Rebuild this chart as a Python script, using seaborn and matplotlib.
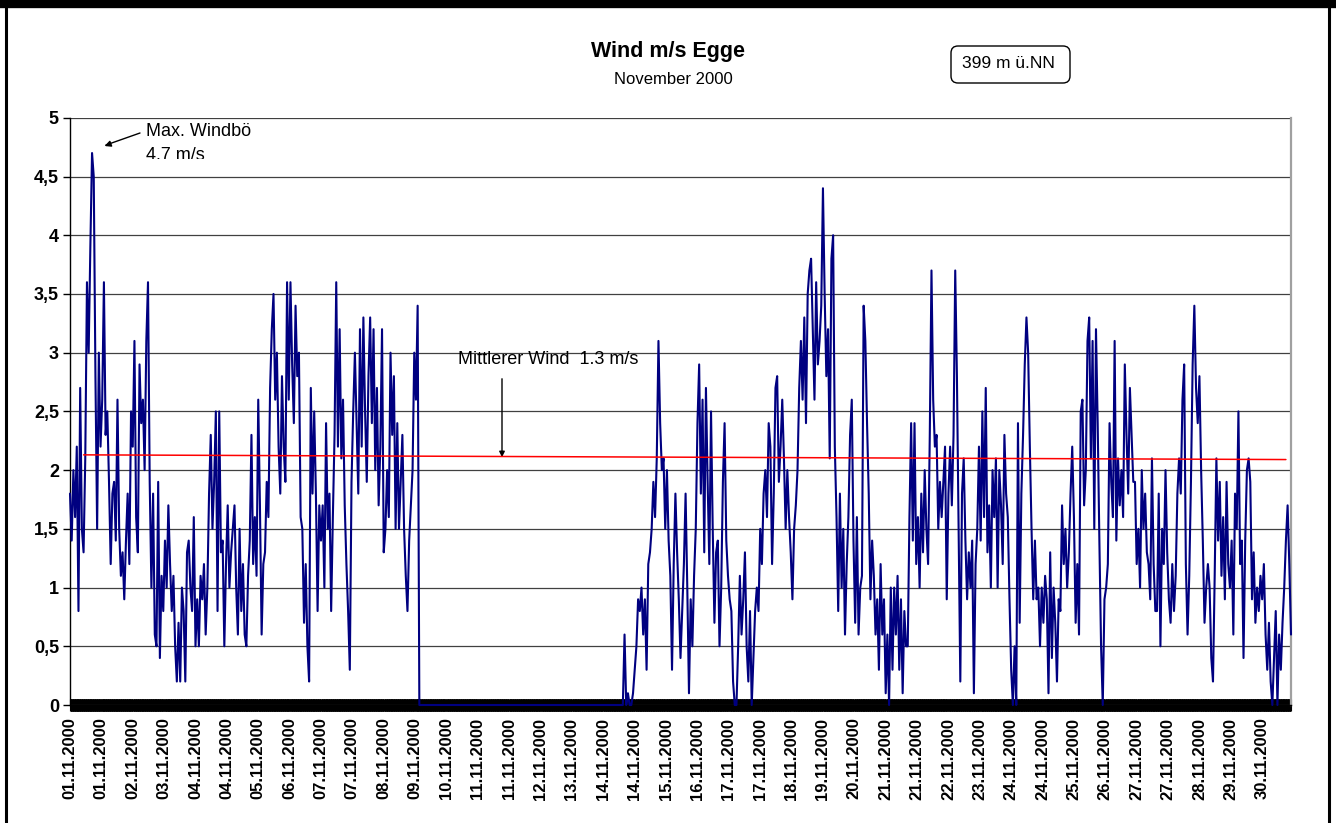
import numpy as np
import pandas as pd
import matplotlib
matplotlib.use("Agg")
import matplotlib.pyplot as plt
import seaborn as sns
from matplotlib.lines import Line2D
from matplotlib.patches import FancyBboxPatch
from matplotlib.transforms import Bbox, IdentityTransform

# ---- hourly wind values (m/s), one list per day ----
day01 = [1.8, 1.4, 2.0, 1.6, 2.2, 0.8, 2.7, 1.5, 1.3, 2.1, 3.6, 3.0, 3.9, 4.7, 4.5, 2.8, 1.5, 3.0, 2.2, 2.6, 3.6, 2.3, 2.5, 1.9]
day02 = [1.2, 1.8, 1.9, 1.4, 2.6, 1.5, 1.1, 1.3, 0.9, 1.4, 1.8, 1.2, 2.5, 2.2, 3.1, 1.6, 1.3, 2.9, 2.4, 2.6, 2.0, 3.1, 3.6, 1.9]
day03 = [1.0, 1.8, 0.6, 0.5, 1.9, 0.4, 1.1, 0.8, 1.4, 1.0, 1.7, 1.2, 0.8, 1.1, 0.5, 0.2, 0.7, 0.2, 1.0, 0.8, 0.2, 1.3, 1.4, 1.0]
day04 = [0.8, 1.6, 0.5, 0.9, 0.5, 1.1, 0.9, 1.2, 0.6, 1.0, 1.8, 2.3, 1.5, 1.9, 2.5, 0.8, 2.5, 1.3, 1.4, 0.5, 1.2, 1.7, 1.0, 1.3]
day05 = [1.5, 1.7, 1.0, 0.6, 1.5, 0.8, 1.2, 0.6, 0.5, 1.1, 1.4, 2.3, 1.2, 1.6, 1.1, 2.6, 1.7, 0.6, 1.2, 1.3, 1.9, 1.6, 2.7, 3.2]
day06 = [3.5, 2.6, 3.0, 2.2, 1.8, 2.8, 2.2, 1.9, 3.6, 2.6, 3.6, 2.9, 2.4, 3.4, 2.8, 3.0, 1.6, 1.5, 0.7, 1.2, 0.5, 0.2, 2.7, 1.8]
day07 = [2.5, 1.8, 0.8, 1.7, 1.4, 1.7, 1.0, 2.4, 1.5, 1.8, 0.8, 1.6, 2.3, 3.6, 2.2, 3.2, 2.1, 2.6, 1.7, 1.2, 0.8, 0.3, 1.9, 2.5]
day08 = [3.0, 2.4, 1.8, 3.2, 2.2, 3.3, 2.5, 1.9, 2.8, 3.3, 2.4, 3.2, 2.0, 2.7, 1.7, 2.2, 3.2, 1.3, 1.5, 2.0, 1.6, 3.0, 2.3, 2.8]
day09 = [1.5, 2.4, 1.5, 1.9, 2.3, 1.5, 1.1, 0.8, 1.4, 1.7, 2.0, 3.0, 2.6, 3.4, 0.0, 0.0, 0.0, 0.0, 0.0, 0.0, 0.0, 0.0, 0.0, 0.0]
day10 = [0.0] * 24
day11 = [0.0] * 24
day12 = [0.0] * 24
day13 = [0.0] * 24
day14 = [0.0] * 15 + [0.6, 0.0, 0.1, 0.0, 0.0, 0.1, 0.3, 0.5, 0.9]
day15 = [0.8, 1.0, 0.6, 0.9, 0.3, 1.2, 1.3, 1.5, 1.9, 1.6, 2.1, 3.1, 2.4, 2.0, 2.1, 1.5, 2.0, 1.4, 1.1, 0.3, 1.2, 1.8, 1.3, 0.9]
day16 = [0.4, 0.8, 1.2, 1.8, 1.0, 0.1, 0.9, 0.5, 1.1, 1.5, 2.4, 2.9, 1.8, 2.6, 1.3, 2.7, 1.9, 1.2, 2.5, 1.5, 0.7, 1.3, 1.4, 0.5]
day17 = [1.0, 1.9, 2.4, 1.4, 1.1, 0.9, 0.8, 0.2, 0.0, 0.0, 0.5, 1.1, 0.6, 0.9, 1.3, 0.5, 0.2, 0.8, 0.0, 0.4, 0.8, 1.0, 0.8, 1.5]
day18 = [1.2, 1.8, 2.0, 1.6, 2.4, 2.2, 1.2, 1.8, 2.7, 2.8, 1.9, 2.2, 2.6, 2.1, 1.5, 2.0, 1.6, 1.3, 0.9, 1.5, 1.7, 2.0, 2.7, 3.1]
day19 = [2.6, 3.3, 2.4, 3.5, 3.7, 3.8, 3.2, 2.6, 3.6, 2.9, 3.1, 3.4, 4.4, 3.5, 2.8, 3.2, 2.1, 3.8, 4.0, 2.2, 1.6, 0.8, 1.8, 1.0]
day20 = [1.5, 0.6, 1.2, 1.6, 2.3, 2.6, 1.4, 0.7, 1.6, 0.6, 1.0, 1.1, 3.4, 3.1, 2.4, 1.8, 0.9, 1.4, 1.1, 0.6, 0.9, 0.3, 1.2, 0.6]
day21 = [0.9, 0.1, 0.6, 0.0, 1.0, 0.3, 1.0, 0.6, 1.1, 0.3, 0.9, 0.1, 0.8, 0.5, 0.5, 1.6, 2.4, 1.4, 2.4, 1.2, 1.6, 1.0, 1.8, 1.3]
day22 = [2.0, 1.5, 1.2, 2.3, 3.7, 2.6, 2.2, 2.3, 1.5, 1.9, 1.6, 1.9, 2.2, 0.9, 1.8, 2.2, 1.7, 2.3, 3.7, 2.8, 1.5, 0.2, 1.8, 2.1]
day23 = [1.4, 0.9, 1.3, 1.0, 1.4, 0.1, 1.2, 1.5, 2.2, 1.4, 2.5, 1.6, 2.7, 1.3, 1.7, 1.0, 2.0, 1.6, 2.1, 1.0, 2.0, 1.7, 1.2, 2.3]
day24 = [1.8, 1.6, 0.9, 0.3, 0.0, 0.5, 0.0, 2.4, 0.7, 1.8, 2.3, 2.9, 3.3, 3.0, 2.2, 1.5, 0.9, 1.4, 0.9, 1.0, 0.5, 1.0, 0.7, 1.1]
day25 = [0.9, 0.1, 1.3, 0.4, 1.0, 0.7, 0.2, 0.9, 0.8, 1.7, 1.2, 1.5, 1.0, 1.3, 1.8, 2.2, 1.6, 0.7, 1.2, 0.6, 2.5, 2.6, 1.7, 2.0]
day26 = [3.1, 3.3, 2.1, 3.1, 1.5, 3.2, 2.4, 1.4, 0.5, 0.0, 0.9, 1.0, 1.2, 2.4, 1.9, 1.6, 3.1, 1.4, 2.1, 1.7, 2.0, 1.6, 2.9, 2.3]
day27 = [1.8, 2.7, 2.3, 1.9, 1.9, 1.2, 1.5, 1.0, 2.0, 1.5, 1.8, 1.3, 1.2, 0.9, 2.1, 1.2, 0.8, 0.8, 1.8, 0.5, 1.5, 1.2, 2.0, 1.3]
day28 = [0.9, 0.7, 1.2, 0.8, 1.1, 1.8, 2.1, 1.8, 2.6, 2.9, 1.2, 0.6, 1.1, 1.9, 2.9, 3.4, 2.7, 2.4, 2.8, 2.0, 1.4, 0.7, 1.0, 1.2]
day29 = [1.0, 0.4, 0.2, 1.1, 2.1, 1.4, 1.9, 1.1, 1.6, 0.9, 1.9, 1.2, 1.0, 1.4, 0.6, 1.8, 1.5, 2.5, 1.2, 1.4, 0.4, 1.4, 2.0, 2.1]
day30 = [1.9, 0.9, 1.3, 0.7, 1.0, 0.8, 1.1, 0.9, 1.2, 0.6, 0.3, 0.7, 0.2, 0.0, 0.4, 0.8, 0.0, 0.6, 0.3, 0.7, 1.0, 1.4, 1.7, 1.2]
last_value = [0.6]

days = [day01, day02, day03, day04, day05, day06, day07, day08, day09, day10,
        day11, day12, day13, day14, day15, day16, day17, day18, day19, day20,
        day21, day22, day23, day24, day25, day26, day27, day28, day29, day30]
wind = [v for d in days for v in d] + last_value
hours = np.arange(len(wind))  # one value per hour

# ---- tick labels (Excel category axis, one label every 18.5 h) ----
tick_labels = ["01.11.2000", "01.11.2000", "02.11.2000", "03.11.2000", "04.11.2000",
               "04.11.2000", "05.11.2000", "06.11.2000", "07.11.2000", "07.11.2000",
               "08.11.2000", "09.11.2000", "10.11.2000", "11.11.2000", "11.11.2000",
               "12.11.2000", "13.11.2000", "14.11.2000", "14.11.2000", "15.11.2000",
               "16.11.2000", "17.11.2000", "17.11.2000", "18.11.2000", "19.11.2000",
               "20.11.2000", "21.11.2000", "21.11.2000", "22.11.2000", "23.11.2000",
               "24.11.2000", "24.11.2000", "25.11.2000", "26.11.2000", "27.11.2000",
               "27.11.2000", "28.11.2000", "29.11.2000", "30.11.2000"]
tick_step_hours = 18.5
y_ticks = [0, 0.5, 1, 1.5, 2, 2.5, 3, 3.5, 4, 4.5, 5]
y_tick_labels = ["0", "0,5", "1", "1,5", "2", "2,5", "3", "3,5", "4", "4,5", "5"]

# ---- mean wind line (slightly sloped) ----
mean_hours = [8, 717]
mean_values = [2.13, 2.09]

sns.set_theme(style="white")
plt.rcParams['font.family'] = ['Liberation Sans', 'DejaVu Sans']
plt.rcParams['text.color'] = 'black'
plt.rcParams['xtick.color'] = 'black'
plt.rcParams['ytick.color'] = 'black'
plt.rcParams['axes.labelcolor'] = 'black'

W, H = 1336, 823
fig = plt.figure(figsize=(W / 100, H / 100), dpi=100)
fig.patch.set_facecolor("white")
ax = fig.add_axes([70 / W, (H - 705) / H, 1221 / W, (705 - 117.8) / H])
ax.set_facecolor("white")

df = pd.DataFrame({"h": hours, "wind": wind})
sns.lineplot(data=df, x="h", y="wind", ax=ax, color="#000080", lw=1.5,
             estimator=None, zorder=4, clip_on=False)
sns.lineplot(x=mean_hours, y=mean_values, ax=ax, color="#ff0000", lw=1.1,
             estimator=None, zorder=5)

ax.set_xlim(0, 720)
ax.set_ylim(0, 5)
ax.set_xlabel("")
ax.set_ylabel("")
ax.set_yticks(y_ticks)
ax.set_yticklabels(y_tick_labels, fontweight="bold", fontsize=13, color="black")
ax.set_xticks([k * tick_step_hours for k in range(len(tick_labels))])
ax.set_xticklabels(tick_labels, rotation=90, fontweight="bold", fontsize=12, color="black")
ax.set_xticks(np.arange(0, 720, 1 / 6), minor=True)
ax.tick_params(axis="x", which="both", bottom=True, top=False)
ax.tick_params(axis="x", which="minor", direction="inout", length=9, width=0.8, color="black")
ax.tick_params(axis="x", which="major", length=0, pad=9)
ax.tick_params(axis="y", which="major", left=True, right=False, direction="out",
               length=5, width=1, color="black", pad=3)
ax.grid(axis="y", color="#404040", lw=0.9)
ax.grid(axis="x", visible=False)
ax.set_axisbelow(True)

for side in ["left", "bottom"]:
    ax.spines[side].set_color("black")
    ax.spines[side].set_linewidth(1.0)
ax.spines["top"].set_visible(False)
ax.spines["right"].set_color("#a0a0a0")
ax.spines["right"].set_linewidth(1.6)

ident = IdentityTransform()

def px(x, y):
    return x, H - y

# titles
fig.text(*px(668, 52), "Wind m/s Egge", transform=ident, ha="center", va="center",
         fontsize=15.5, fontweight="bold", color="black")
fig.text(*px(673, 80), "November 2000", transform=ident, ha="center", va="center",
         fontsize=12, color="black")

# altitude box
box = FancyBboxPatch(px(951, 83), 119, 37, boxstyle="round,pad=0,rounding_size=7",
                     transform=ident, facecolor="white", edgecolor="black", lw=1.0)
fig.add_artist(box)
fig.text(*px(1008, 64), "399 m ü.NN", transform=ident, ha="center", va="center",
         fontsize=12.5, color="black")

# max gust annotation
fig.text(*px(146, 131), "Max. Windbö", transform=ident, ha="left", va="center",
         fontsize=13, color="black")
t2 = fig.text(*px(146, 156), "4.7 m/s", transform=ident, ha="left", va="center",
              fontsize=13, color="black")
t2.set_clip_on(True)
t2.set_clip_box(Bbox([[130, H - 159], [300, H]]))
fig.add_artist(Line2D([140, 106], [H - 133, H - 145], transform=ident, color="black", lw=1.0))
ax.annotate("", xy=px(102, 147), xytext=px(110, 144), xycoords=ident, textcoords=ident,
            arrowprops=dict(arrowstyle="-|>", color="black", lw=1.0, mutation_scale=9))

# mean wind annotation
fig.text(*px(458, 359), "Mittlerer Wind  1.3 m/s", transform=ident, ha="left", va="center",
         fontsize=13, color="black")
ax.annotate("", xy=px(502, 460), xytext=px(502, 376), xycoords=ident, textcoords=ident,
            arrowprops=dict(arrowstyle="-|>", color="black", lw=1.0, mutation_scale=8))

# outer frame
fig.add_artist(Line2D([0, W], [H - 4, H - 4], transform=ident, color="black", lw=6))
fig.add_artist(Line2D([6, 6], [0, H], transform=ident, color="black", lw=2.2))
fig.add_artist(Line2D([1329, 1329], [0, H], transform=ident, color="black", lw=2.2))

fig.savefig("out.png", dpi=100)
